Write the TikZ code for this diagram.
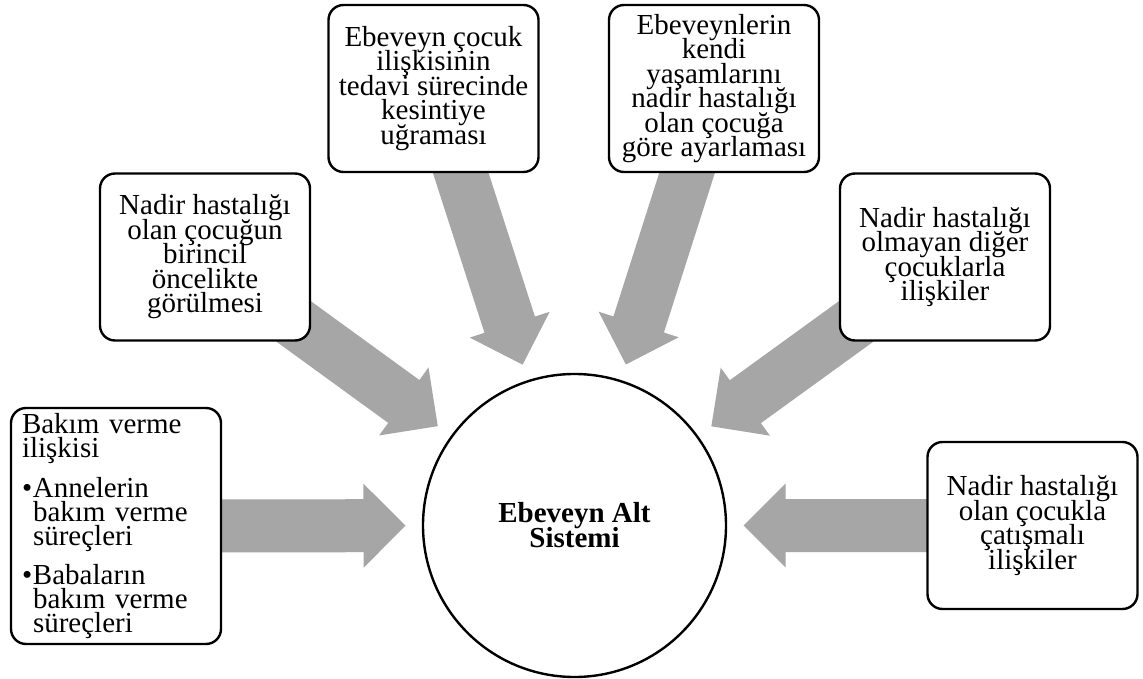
\documentclass[tikz,border=0pt]{standalone}
\usepackage{fontspec}
\setmainfont{Liberation Serif}
\usetikzlibrary{calc,backgrounds}
\setlength{\lineskiplimit}{-100pt}
\definecolor{arrowgray}{HTML}{A6A6A6}

% Broad grey arrow from the centre of box #1 towards the central circle
\newcommand\fatarrow[1]{%
  \coordinate (tip-#1) at ($(core.center)!169pt!(#1.center)$);
  \coordinate (hb-#1) at ($(tip-#1)!42pt!(#1.center)$);
  \fill[arrowfill] (tip-#1)
    -- ($(hb-#1)!42pt!90:(tip-#1)$)
    -- ($(hb-#1)!26.5pt!90:(tip-#1)$)
    -- ($(#1.center)!26.5pt!90:(hb-#1)$)
    -- ($(#1.center)!26.5pt!-90:(hb-#1)$)
    -- ($(hb-#1)!26.5pt!-90:(tip-#1)$)
    -- ($(hb-#1)!42pt!-90:(tip-#1)$)
    -- cycle;
}

\begin{document}
\begin{tikzpicture}[x=1pt, y=-1pt,
  txt/.style={font=\fontsize{29}{24.5}\selectfont},
  box/.style={draw, line width=2.4pt, rounded corners=15pt, fill=white,
    inner sep=0pt, align=center, txt, minimum width=210pt, minimum height=167pt},
  arrowfill/.style={fill=arrowgray},
]
\path[use as bounding box] (0,0) rectangle (1143,679);

% central circle
\node[draw, circle, line width=2.4pt, fill=white, minimum size=303pt, inner sep=0pt,
  align=center, font=\fontsize{29}{25}\selectfont\bfseries] (core) at (574.5,525.5)
  {Ebeveyn Alt\\Sistemi};

% surrounding boxes
\node[box, minimum height=236pt, text width=188pt, align=left,
  font=\fontsize{29}{24}\selectfont] (b1) at (116,526) {%
Bakım verme\\
ilişkisi\\[13pt]
\makebox[11pt][l]{•}Annelerin\\
\hspace*{11pt}bakım verme\\
\hspace*{11pt}süreçleri\\[12pt]
\makebox[11pt][l]{•}Babaların\\
\hspace*{11pt}bakım verme\\
\hspace*{11pt}süreçleri};

\node[box] (b2) at (205,257)
  {Nadir hastalığı\\olan çocuğun\\birincil\\öncelikte\\görülmesi};
\node[box] (b3) at (433.5,88.5)
  {Ebeveyn çocuk\\ilişkisinin\\tedavi sürecinde\\kesintiye\\uğraması};
\node[box] (b4) at (714,88.5)
  {Ebeveynlerin\\kendi\\yaşamlarını\\nadir hastalığı\\olan çocuğa\\göre ayarlaması};
\node[box] (b5) at (945,257)
  {Nadir hastalığı\\olmayan diğer\\çocuklarla\\ilişkiler};
\node[box] (b6) at (1032.5,525.5)
  {Nadir hastalığı\\olan çocukla\\çatışmalı\\ilişkiler};

% arrows behind the boxes
\begin{pgfonlayer}{background}
  \fill[white] (0,0) rectangle (1143,679);
  \fatarrow{b1}
  \fatarrow{b2}
  \fatarrow{b3}
  \fatarrow{b4}
  \fatarrow{b5}
  \fatarrow{b6}
\end{pgfonlayer}
\end{tikzpicture}
\end{document}
